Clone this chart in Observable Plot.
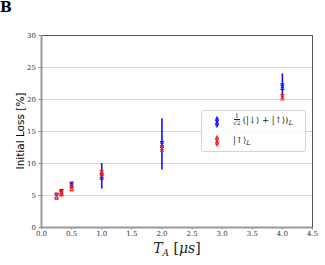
<!DOCTYPE html>
<html><head><meta charset="utf-8">
<script src="https://cdn.jsdelivr.net/npm/d3@7"></script>
<script src="https://cdn.jsdelivr.net/npm/@observablehq/plot@0.6"></script>
<style>
body{margin:0;background:#fff;}
#wrap{position:relative;width:325px;height:265px;overflow:hidden;}
.ov{position:absolute;white-space:nowrap;}
</style></head><body>
<div id="wrap"></div>
<script>
const times = [0.25, 0.33, 0.5, 1.0, 2.0, 4.0];
const superLoss = [4.9, 5.5, 6.65, 8.0, 13.0, 22.0];
const superErr = [0.2, 0.25, 0.3, 2.0, 4.0, 2.0];
const upLoss = [4.9, 5.35, 6.2, 8.5, 12.35, 20.35];
const upErr = [0.2, 0.2, 0.3, 0.3, 0.4, 0.3];
const xTicks = [0, 0.5, 1, 1.5, 2, 2.5, 3, 3.5, 4, 4.5];
const yTicks = [0, 5, 10, 15, 20, 25, 30];
const gridY = [5, 10, 15, 20, 25];

const sup = times.map((t, i) => ({t, v: superLoss[i], e: superErr[i]}));
const up = times.map((t, i) => ({t, v: upLoss[i], e: upErr[i]}));

// marker: small x with two short bars above and below
const sharp = {draw(ctx, size){
  const r = Math.sqrt(size / Math.PI);
  const a = r * 0.6;
  ctx.moveTo(-a, -a); ctx.lineTo(a, a);
  ctx.moveTo(a, -a); ctx.lineTo(-a, a);
  ctx.moveTo(-r * 0.7, -r); ctx.lineTo(r * 0.7, -r);
  ctx.moveTo(-r * 0.7, r); ctx.lineTo(r * 0.7, r);
}};

function series(data, color){
  return [
    Plot.ruleX(data, {x: "t", y1: d => d.v - d.e, y2: d => d.v + d.e, stroke: color, strokeWidth: 1.6}),
    Plot.dot(data, {x: "t", y: "v", symbol: sharp, r: 2.8, stroke: color, strokeWidth: 1.1})
  ];
}

const chart = Plot.plot({
  width: 325, height: 265,
  marginLeft: 41, marginRight: 13, marginTop: 35, marginBottom: 38,
  style: {fontFamily: "DejaVu Serif", fontSize: "7px", background: "transparent", color: "#333"},
  x: {domain: [0, 4.5], ticks: xTicks, tickFormat: ".1f", label: null},
  y: {domain: [0, 30], ticks: yTicks, label: null},
  marks: [
    Plot.ruleY(gridY, {stroke: "#d8d8d8", strokeWidth: 1}),
    Plot.axisX({ticks: xTicks, tickFormat: ".1f", tickSize: 2.5, tickPadding: 1, stroke: "#888", fontSize: 7, label: null}),
    Plot.axisY({ticks: yTicks, tickSize: 2.5, tickPadding: 3, stroke: "#888", fontSize: 7, label: null}),
    Plot.ruleY([30], {stroke: "#555", strokeWidth: 1}),
    Plot.ruleX([4.5], {stroke: "#555", strokeWidth: 1}),
    Plot.ruleX([0], {stroke: "#999", strokeWidth: 2}),
    Plot.ruleY([0], {stroke: "#999", strokeWidth: 2}),
    ...series(sup, "#1010ff"),
    ...series(up, "#ff1a1a")
  ]
});
const wrap = document.getElementById("wrap");
wrap.appendChild(chart);

function marker(color){
  return `<svg width="8" height="12" style="display:block"><g stroke="${color}" fill="none">
  <line x1="4" y1="0.5" x2="4" y2="11.5" stroke-width="1.6"/>
  <line x1="2" y1="3" x2="6" y2="3" stroke-width="1.2"/>
  <line x1="2" y1="9" x2="6" y2="9" stroke-width="1.2"/>
  <path d="M2.2,4.2 L5.8,7.8 M5.8,4.2 L2.2,7.8" stroke-width="1.2"/></g></svg>`;
}

const add = (html, css) => { const d = document.createElement("div"); d.className = "ov"; d.style.cssText = css; d.innerHTML = html; wrap.appendChild(d); };

add("B", "left:0px;top:-1px;font:bold 14px 'DejaVu Serif';color:#000;");
add("Initial Loss [%]", "left:20px;top:131px;font:10.5px 'DejaVu Sans';color:#000;transform:translate(-50%,-50%) rotate(-90deg);");
add("<i>T</i><span style='font-size:9px;font-style:italic;position:relative;top:3px'>A</span> [<i>μs</i>]", "left:177px;top:249px;font:14px 'DejaVu Serif';color:#222;transform:translate(-50%,-50%);line-height:14px;");
add(`<div style="position:absolute;left:11px;top:5px">${marker("#1010ff")}</div>
<div style="position:absolute;left:11px;top:24px">${marker("#ff1a1a")}</div>
<div style="position:absolute;left:31px;top:2px;font:8.5px 'DejaVu Serif';color:#222;display:flex;align-items:center;">
<span style="display:inline-flex;flex-direction:column;align-items:center;font-size:6px;line-height:6px;margin-right:2px"><span style="border-bottom:0.6px solid #222;padding:0 1px">1</span><span>√2</span></span>
<span>(|↓⟩ + |↑⟩)<span style="font-style:italic;font-size:6.5px;position:relative;top:2px">L</span></span></div>
<div style="position:absolute;left:31px;top:24px;font:8.5px 'DejaVu Serif';color:#222;">|↑⟩<span style="font-style:italic;font-size:6.5px;position:relative;top:2px">L</span></div>`,
 "left:201px;top:110px;width:105px;height:42px;border:1px solid #d4d4d4;border-radius:3px;background:rgba(255,255,255,0.85);box-sizing:border-box;");
</script>
</body></html>
